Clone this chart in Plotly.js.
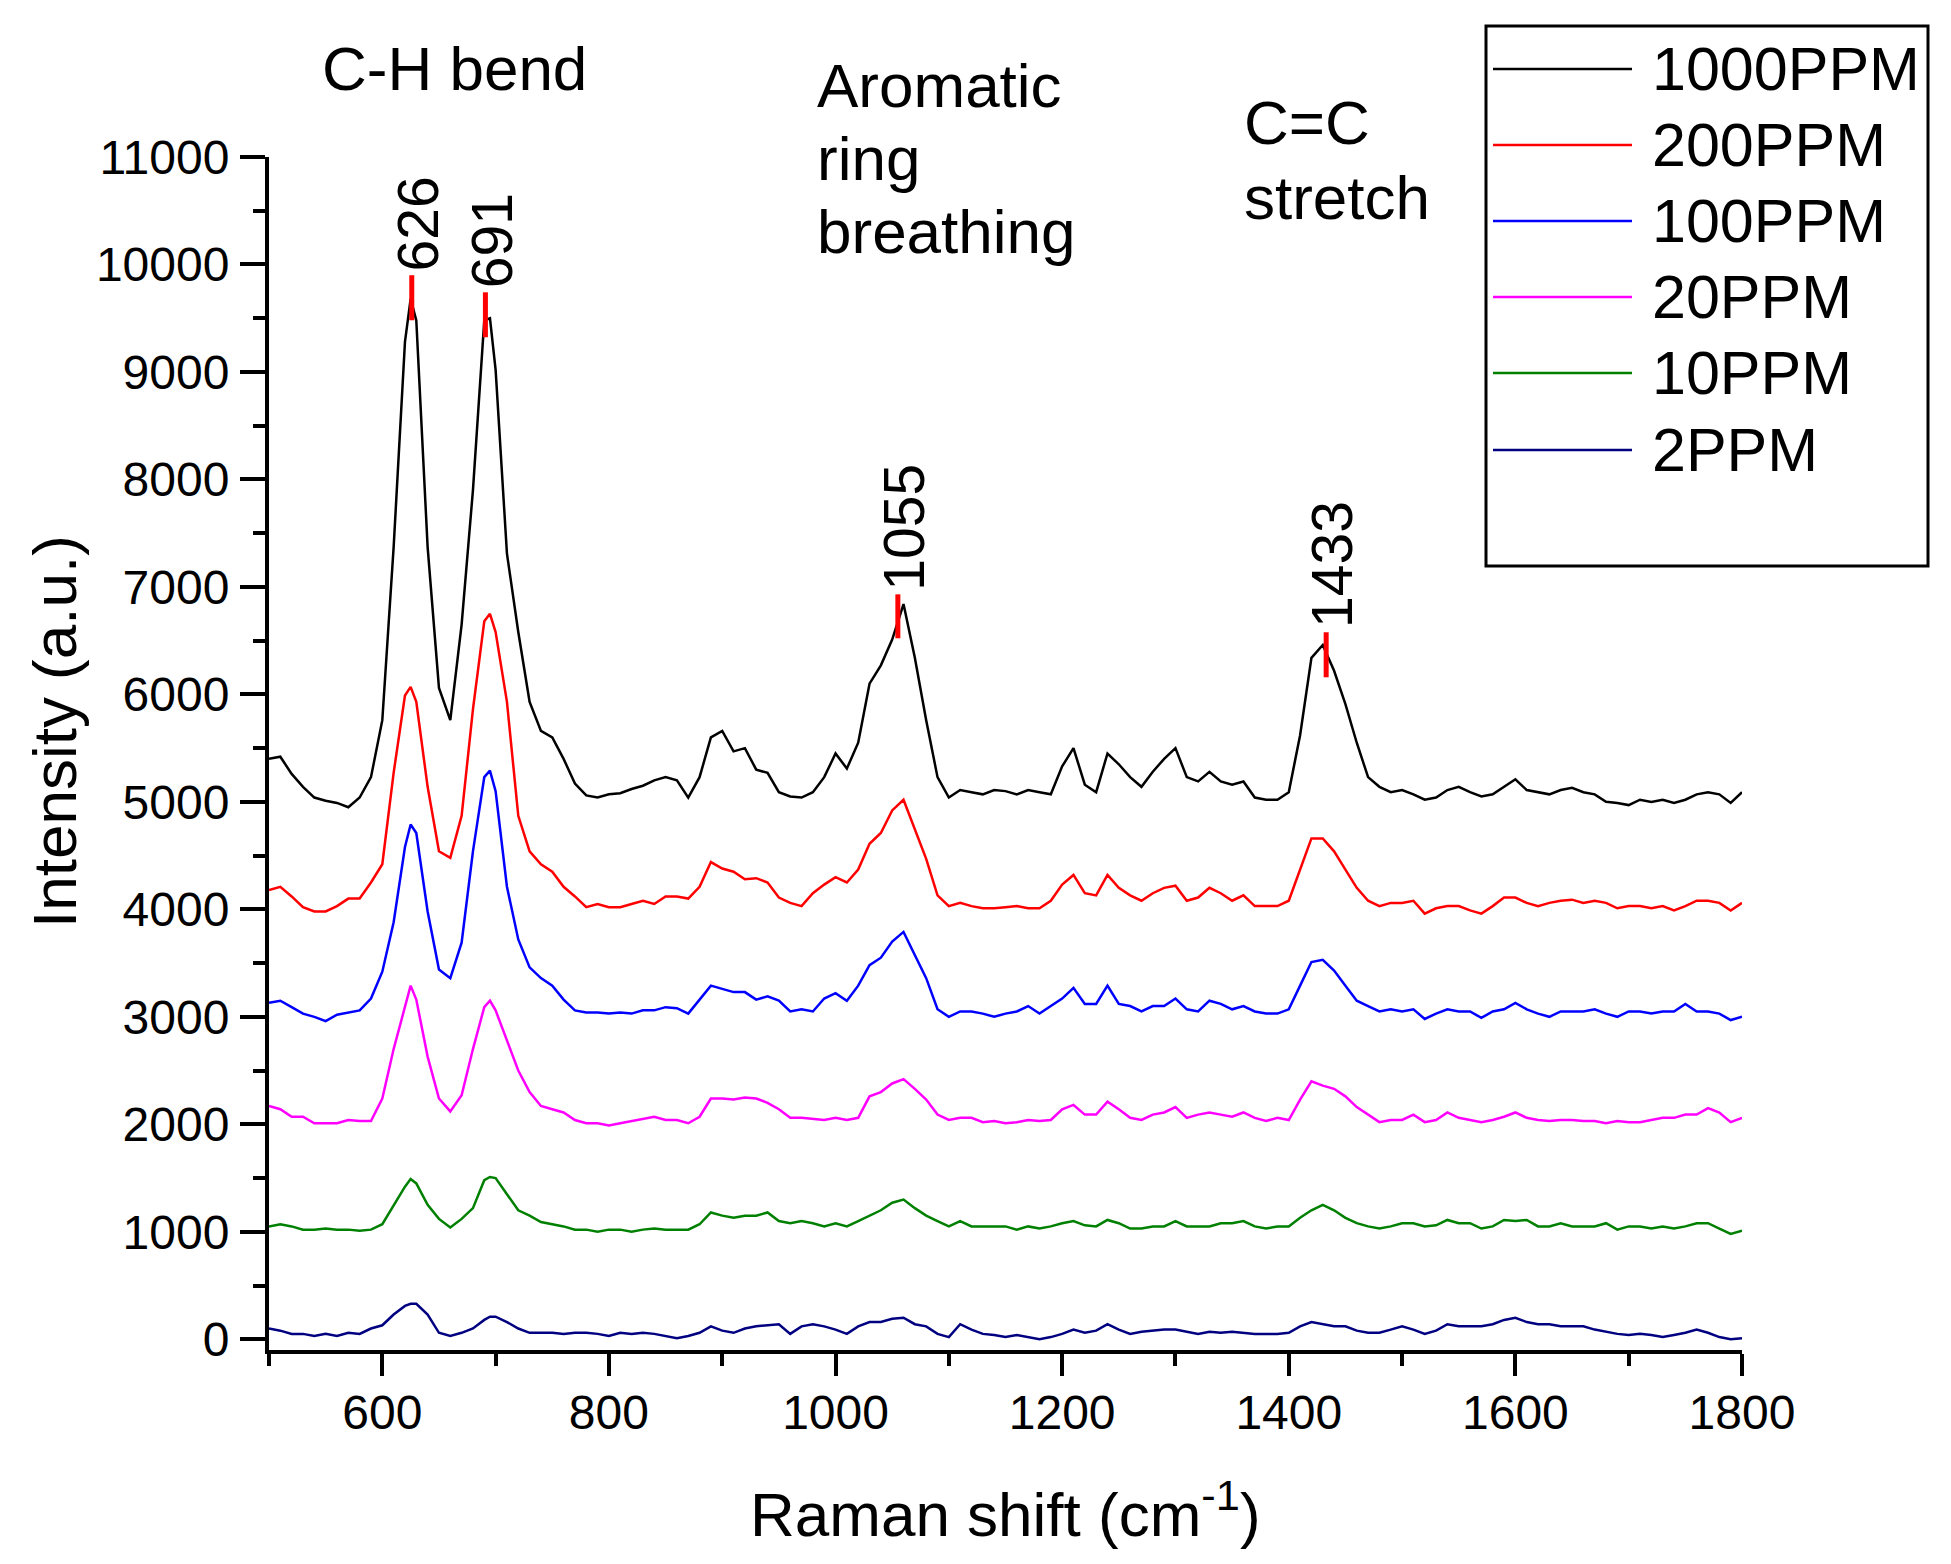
<!DOCTYPE html>
<html>
<head>
<meta charset="utf-8">
<script src="https://cdn.plot.ly/plotly-3.0.1.min.js"></script>
<style>
  html, body { margin: 0; padding: 0; background: #fff; }
  #chartBox { width: 1951px; height: 1564px; }
</style>
</head>
<body>
<div id="chartBox"></div>
<script>
// Raman shift (cm-1)
const shift = [
  500, 510, 520, 530, 540, 550, 560, 570, 580, 590,
  600, 610, 620, 625, 630, 640, 650, 660, 670, 680, 690, 695,
  700, 710, 720, 730, 740, 750, 760, 770, 780, 790,
  800, 810, 820, 830, 840, 850, 860, 870, 880, 890,
  900, 910, 920, 930, 940, 950, 960, 970, 980, 990,
  1000, 1010, 1020, 1030, 1040, 1050, 1060, 1070, 1080, 1090,
  1100, 1110, 1120, 1130, 1140, 1150, 1160, 1170, 1180, 1190,
  1200, 1210, 1220, 1230, 1240, 1250, 1260, 1270, 1280, 1290,
  1300, 1310, 1320, 1330, 1340, 1350, 1360, 1370, 1380, 1390,
  1400, 1410, 1420, 1430, 1440, 1450, 1460, 1470, 1480, 1490,
  1500, 1510, 1520, 1530, 1540, 1550, 1560, 1570, 1580, 1590,
  1600, 1610, 1620, 1630, 1640, 1650, 1660, 1670, 1680, 1690,
  1700, 1710, 1720, 1730, 1740, 1750, 1760, 1770, 1780, 1790,
  1800
];

// intensity (a.u.)
const s1000 = [
  5400, 5420, 5260, 5140, 5040, 5010, 4990, 4950, 5040, 5230,
  5760, 7370, 9280, 9680, 9480, 7370, 6060, 5760, 6650, 7900, 9480, 9500,
  9020, 7310, 6580, 5930, 5660, 5600, 5400, 5170, 5060, 5040,
  5070, 5080, 5120, 5150, 5200, 5230, 5200, 5040, 5230, 5600,
  5660, 5470, 5500, 5300, 5270, 5090, 5050, 5040, 5090, 5230,
  5450, 5310, 5550, 6100, 6270, 6510, 6840, 6340, 5760, 5230,
  5040, 5110, 5090, 5070, 5110, 5100, 5070, 5110, 5090, 5070,
  5330, 5500, 5160, 5090, 5450, 5350, 5230, 5140, 5280, 5400,
  5500, 5230, 5190, 5280, 5190, 5160, 5190, 5040, 5020, 5020,
  5090, 5620, 6340, 6460, 6220, 5910, 5550, 5230, 5140, 5090,
  5110, 5070, 5020, 5040, 5110, 5140, 5090, 5050, 5070, 5140,
  5210, 5110, 5090, 5070, 5110, 5130, 5090, 5070, 5000, 4990,
  4970, 5020, 5000, 5020, 4990, 5020, 5070, 5090, 5070, 4990,
  5090
];
const s200 = [
  4180, 4210, 4120, 4020, 3980, 3980, 4030, 4100, 4100, 4250,
  4420, 5270, 5990, 6070, 5930, 5140, 4540, 4480, 4870, 5860, 6680, 6750,
  6580, 5930, 4870, 4540, 4420, 4350, 4210, 4120, 4020, 4050,
  4020, 4020, 4050, 4080, 4050, 4120, 4120, 4100, 4210, 4440,
  4380, 4350, 4280, 4290, 4250, 4110, 4060, 4030, 4150, 4230,
  4300, 4250, 4370, 4610, 4710, 4920, 5020, 4750, 4470, 4130,
  4030, 4060, 4030, 4010, 4010, 4020, 4030, 4010, 4010, 4080,
  4230, 4320, 4150, 4130, 4320, 4200, 4130, 4080, 4150, 4200,
  4220, 4080, 4110, 4200, 4150, 4080, 4130, 4030, 4030, 4030,
  4080, 4370, 4660, 4660, 4540, 4370, 4200, 4080, 4030, 4060,
  4060, 4080, 3960, 4010, 4030, 4030, 3990, 3960, 4030, 4110,
  4110, 4060, 4030, 4060, 4080, 4090, 4060, 4080, 4060, 4010,
  4030, 4030, 4010, 4030, 3990, 4030, 4080, 4080, 4060, 3990,
  4060
];
const s100 = [
  3130, 3150, 3090, 3030, 3000, 2960, 3020, 3040, 3060, 3170,
  3420, 3880, 4580, 4790, 4710, 3980, 3440, 3360, 3690, 4540, 5230, 5290,
  5100, 4210, 3720, 3460, 3360, 3290, 3160, 3060, 3040, 3040,
  3030, 3040, 3030, 3060, 3060, 3090, 3080, 3030, 3160, 3290,
  3260, 3230, 3230, 3160, 3190, 3150, 3050, 3070, 3050, 3170,
  3220, 3150, 3290, 3480, 3550, 3700, 3790, 3580, 3360, 3070,
  3000, 3050, 3050, 3030, 3000, 3030, 3050, 3100, 3030, 3100,
  3170, 3270, 3120, 3120, 3290, 3120, 3100, 3050, 3100, 3100,
  3170, 3070, 3050, 3150, 3120, 3070, 3100, 3050, 3030, 3030,
  3070, 3290, 3510, 3530, 3430, 3290, 3150, 3100, 3050, 3070,
  3050, 3070, 2980, 3030, 3070, 3050, 3050, 2990, 3050, 3070,
  3130, 3070, 3030, 3000, 3050, 3050, 3050, 3070, 3030, 3000,
  3050, 3050, 3030, 3050, 3050, 3120, 3050, 3050, 3030, 2970,
  3000
];
const s20 = [
  2170, 2140, 2070, 2070, 2010, 2010, 2010, 2040, 2030, 2030,
  2240, 2700, 3090, 3290, 3160, 2630, 2240, 2120, 2270, 2700, 3090, 3150,
  3060, 2770, 2500, 2300, 2170, 2140, 2110, 2040, 2010, 2010,
  1990, 2010, 2030, 2050, 2070, 2040, 2040, 2010, 2070, 2240,
  2240, 2230, 2250, 2240, 2200, 2140, 2060, 2060, 2050, 2040,
  2060, 2040, 2060, 2260, 2300, 2380, 2420, 2330, 2230, 2090,
  2040, 2060, 2060, 2020, 2030, 2010, 2020, 2040, 2030, 2040,
  2140, 2180, 2090, 2090, 2210, 2140, 2060, 2040, 2090, 2110,
  2160, 2060, 2090, 2110, 2090, 2070, 2110, 2060, 2030, 2060,
  2040, 2230, 2400, 2360, 2330, 2260, 2160, 2090, 2020, 2040,
  2040, 2090, 2020, 2040, 2110, 2060, 2040, 2020, 2040, 2070,
  2110, 2060, 2040, 2030, 2040, 2040, 2030, 2030, 2010, 2030,
  2020, 2020, 2040, 2060, 2060, 2090, 2090, 2150, 2110, 2020,
  2060
];
const s10 = [
  1050, 1070, 1050, 1020, 1020, 1030, 1020, 1020, 1010, 1020,
  1070, 1250, 1420, 1490, 1450, 1250, 1120, 1040, 1120, 1220, 1480, 1510,
  1500, 1350, 1200, 1150, 1090, 1070, 1050, 1020, 1020, 1000,
  1020, 1020, 1000, 1020, 1030, 1020, 1020, 1020, 1070, 1180,
  1150, 1130, 1150, 1150, 1180, 1100, 1080, 1100, 1080, 1050,
  1080, 1050, 1100, 1150, 1200, 1270, 1300, 1220, 1150, 1100,
  1050, 1100, 1050, 1050, 1050, 1050, 1020, 1050, 1030, 1050,
  1080, 1100, 1060, 1050, 1110, 1080, 1030, 1030, 1050, 1050,
  1100, 1050, 1050, 1050, 1080, 1080, 1100, 1050, 1030, 1050,
  1050, 1130, 1200, 1250, 1200, 1130, 1080, 1050, 1030, 1050,
  1080, 1080, 1050, 1060, 1110, 1080, 1080, 1030, 1050, 1110,
  1100, 1110, 1050, 1050, 1080, 1050, 1050, 1050, 1080, 1020,
  1050, 1050, 1030, 1050, 1030, 1050, 1080, 1080, 1030, 980,
  1010
];
const s2 = [
  100, 80, 50, 50, 30, 50, 30, 60, 50, 100,
  130, 230, 310, 330, 330, 230, 60, 30, 60, 100, 180, 210,
  210, 160, 100, 60, 60, 60, 50, 60, 60, 50,
  30, 60, 50, 60, 50, 30, 10, 30, 60, 120,
  80, 60, 100, 120, 130, 140, 50, 120, 140, 120,
  90, 50, 120, 160, 160, 190, 200, 140, 120, 50,
  20, 140, 90, 50, 40, 20, 40, 20, 0, 20,
  50, 90, 60, 80, 140, 90, 50, 70, 80, 90,
  90, 70, 50, 70, 60, 70, 60, 50, 50, 50,
  60, 120, 160, 140, 120, 120, 80, 60, 60, 90,
  120, 90, 50, 80, 140, 120, 120, 120, 140, 180,
  200, 160, 140, 140, 120, 120, 120, 90, 70, 50,
  40, 50, 40, 20, 40, 60, 90, 60, 20, 0,
  10
];

const seriesNames = ['1000PPM', '200PPM', '100PPM', '20PPM', '10PPM', '2PPM'];
const seriesValues = [s1000, s200, s100, s20, s10, s2];
const seriesColors = ['#000000', '#ff0000', '#0000ff', '#ff00ff', '#008000', '#000080'];

// marked peaks
const peakPos = [626, 691, 1055, 1433];
const peakTop = [9900, 9741, 6931, 6578];
const peakBottom = [9481, 9323, 6522, 6159];

const FONT = '"Liberation Sans", Arial, sans-serif';
const W = 1951, H = 1564;
const plotL = 269, plotR = 1742, plotT = 157, plotB = 1350;

// pixel -> paper
const px = x => (x - plotL) / (plotR - plotL);
const py = y => (plotB - y) / (plotB - plotT);

const traces = [];
for (let i = seriesValues.length - 1; i >= 0; i--) {
    traces.push({
        x: shift,
        y: seriesValues[i],
        name: seriesNames[i],
        type: 'scatter',
        mode: 'lines',
        line: { color: seriesColors[i], width: 2.5 },
        showlegend: false
    });
}

// red peak markers
const tickX = [], tickY = [];
peakPos.forEach((p, i) => {
    tickX.push(p, p, null);
    tickY.push(peakBottom[i], peakTop[i], null);
});
traces.push({
    x: tickX, y: tickY, type: 'scatter', mode: 'lines',
    line: { color: '#ff0000', width: 5 }, showlegend: false
});

const annotations = [];
peakPos.forEach((p, i) => {
    annotations.push({
        x: p, y: peakTop[i], xref: 'x', yref: 'y',
        text: String(p), showarrow: false, textangle: -90,
        xanchor: 'center', yanchor: 'bottom', xshift: 6, yshift: 2,
        font: { family: FONT, size: 57, color: '#000' }
    });
});

const bandText = [
    ['C-H bend', 320, 69],
    ['Aromatic', 815, 86],
    ['ring', 815, 159],
    ['breathing', 815, 231],
    ['C=C', 1242, 123],
    ['stretch', 1242, 197]
];
bandText.forEach(([t, x, y]) => {
    annotations.push({
        x: px(x), y: py(y), xref: 'paper', yref: 'paper',
        text: t, showarrow: false, xanchor: 'left', yanchor: 'middle',
        font: { family: FONT, size: 62, color: '#000' }
    });
});

// axis titles
annotations.push({
    x: 0.5, y: py(1510), xref: 'paper', yref: 'paper',
    text: 'Raman shift (cm<sup>-1</sup>)', showarrow: false,
    xanchor: 'center', yanchor: 'middle',
    font: { family: FONT, size: 62, color: '#000' }
});
annotations.push({
    x: px(54), y: py(732), xref: 'paper', yref: 'paper',
    text: 'Intensity (a.u.)', showarrow: false, textangle: -90,
    xanchor: 'center', yanchor: 'middle',
    font: { family: FONT, size: 62, color: '#000' }
});

// legend drawn by hand
const shapes = [{
    type: 'rect', xref: 'paper', yref: 'paper',
    x0: px(1486), x1: px(1928), y0: py(26), y1: py(566),
    line: { color: '#000', width: 3 }, fillcolor: 'rgba(0,0,0,0)'
}];
const legendRowY = [69, 145, 221, 297, 373, 450];
seriesNames.forEach((name, i) => {
    shapes.push({
        type: 'line', xref: 'paper', yref: 'paper',
        x0: px(1493), x1: px(1632), y0: py(legendRowY[i]), y1: py(legendRowY[i]),
        line: { color: seriesColors[i], width: 2.5 }
    });
    annotations.push({
        x: px(1650), y: py(legendRowY[i]), xref: 'paper', yref: 'paper',
        text: name, showarrow: false, xanchor: 'left', yanchor: 'middle',
        font: { family: FONT, size: 61, color: '#000' }
    });
});

const layout = {
    width: W,
    height: H,
    margin: { l: plotL, r: W - plotR, t: plotT, b: H - plotB, pad: 0 },
    paper_bgcolor: '#fff',
    plot_bgcolor: '#fff',
    showlegend: false,
    font: { family: FONT, color: '#000' },
    xaxis: {
        range: [500, 1800],
        tick0: 0, dtick: 200,
        ticks: 'outside', ticklen: 22, tickwidth: 4, tickcolor: '#000',
        minor: { dtick: 100, tick0: 0, ticks: 'outside', ticklen: 12, tickwidth: 4, tickcolor: '#000', showgrid: false },
        showline: true, linewidth: 4, linecolor: '#000',
        showgrid: false, zeroline: false,
        tickformat: 'd',
        tickfont: { family: FONT, size: 48, color: '#000' },
        ticklabelstandoff: -5
    },
    yaxis: {
        range: [-100, 11000],
        tick0: 0, dtick: 1000,
        ticks: 'outside', ticklen: 25, tickwidth: 4, tickcolor: '#000',
        minor: { dtick: 500, tick0: 0, ticks: 'outside', ticklen: 12, tickwidth: 4, tickcolor: '#000', showgrid: false },
        showline: true, linewidth: 4, linecolor: '#000',
        showgrid: false, zeroline: false,
        tickformat: 'd',
        tickfont: { family: FONT, size: 48, color: '#000' },
        ticklabelstandoff: 1
    },
    annotations: annotations,
    shapes: shapes
};

Plotly.newPlot('chartBox', traces, layout, { staticPlot: true, displayModeBar: false });
</script>
</body>
</html>
